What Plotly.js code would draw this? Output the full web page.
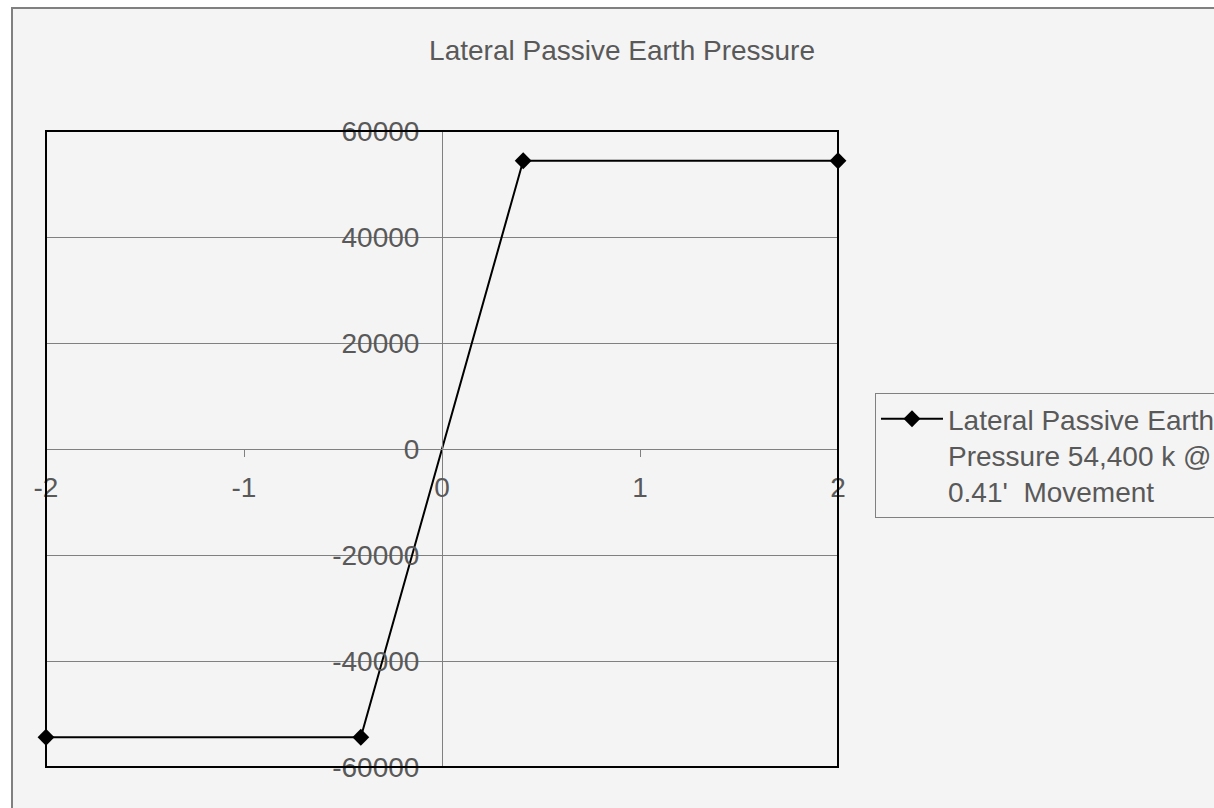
<!DOCTYPE html>
<html>
<head>
<meta charset="utf-8">
<script src="https://cdn.plot.ly/plotly-3.0.1.min.js"></script>
<style>
  html, body { margin: 0; padding: 0; width: 1214px; height: 808px; overflow: hidden; background: #ffffff; }
  #frame { position: absolute; left: 11px; top: 7px; width: 1400px; height: 1000px;
           border-left: 2px solid #808080; border-top: 2px solid #808080; background: #f4f4f4; }
  #chart { position: absolute; left: 0; top: 0; width: 1214px; height: 808px; }
</style>
</head>
<body>
<div id="frame"></div>
<div id="chart"></div>
<script>
// Data
var seriesName = "Lateral Passive Earth<br>Pressure 54,400 k @<br>0.41'  Movement";
var movement = [-2, -0.41, 0.41, 2];
var pressure = [-54400, -54400, 54400, 54400];

// Tick labels
var xTickVals = [-2, -1, 0, 1, 2];
var xTickText = ["-2", "-1", "0", "1", "2"];
var yTickVals = [-60000, -40000, -20000, 0, 20000, 40000, 60000];
var yTickText = ["-60000", "-40000", "-20000", "0", "20000", "40000", "60000"];

var FONT = "Liberation Sans, Arial, sans-serif";
var TXT = "#595959";

var trace = {
  x: movement,
  y: pressure,
  type: "scatter",
  mode: "lines+markers",
  name: seriesName,
  line: { color: "#000000", width: 2 },
  marker: { symbol: "diamond", color: "#000000", size: 13 },
  cliponaxis: false
};

var layout = {
  width: 1214,
  height: 808,
  margin: { l: 46, r: 376, t: 131, b: 41, pad: 0, autoexpand: false },
  paper_bgcolor: "rgba(0,0,0,0)",
  plot_bgcolor: "rgba(0,0,0,0)",
  font: { family: FONT, size: 28, color: TXT },
  title: {
    text: "Lateral Passive Earth Pressure",
    font: { family: FONT, size: 28, color: TXT },
    xref: "container", x: 0.5124, xanchor: "center",
    yref: "container", y: 1 - 50 / 808, yanchor: "middle"
  },
  showlegend: true,
  legend: {
    x: 1.0467, xanchor: "left",
    y: 0.588, yanchor: "top",
    bgcolor: "rgba(0,0,0,0)",
    bordercolor: "#808080",
    borderwidth: 1,
    valign: "top",
    itemwidth: 62,
    font: { family: FONT, size: 28, color: TXT }
  },
  xaxis: {
    range: [-2, 2],
    anchor: "free", position: 0.5,
    showgrid: false, zeroline: false,
    showline: true, linecolor: "#808080", linewidth: 1,
    ticks: "outside", ticklen: 7, tickcolor: "#808080",
    tickmode: "array", tickvals: xTickVals, ticktext: xTickText,
    tickfont: { family: FONT, size: 28, color: TXT },
    ticklabelstandoff: 6,
    automargin: false,
    fixedrange: true
  },
  yaxis: {
    range: [-60000, 60000],
    anchor: "free", position: 0.5,
    showgrid: true, gridcolor: "#808080", gridwidth: 1,
    zeroline: false,
    showline: true, linecolor: "#808080", linewidth: 1,
    ticks: "outside", ticklen: 7, tickcolor: "#808080",
    tickmode: "array", tickvals: yTickVals, ticktext: yTickText,
    tickfont: { family: FONT, size: 28, color: TXT },
    ticklabelstandoff: 10,
    automargin: false,
    fixedrange: true
  },
  shapes: [{
    type: "rect", xref: "paper", yref: "paper",
    x0: 0, x1: 1, y0: 0, y1: 1,
    line: { color: "#000000", width: 2 },
    layer: "above"
  }]
};

Plotly.newPlot("chart", [trace], layout, { displayModeBar: false, staticPlot: true });
</script>
</body>
</html>
